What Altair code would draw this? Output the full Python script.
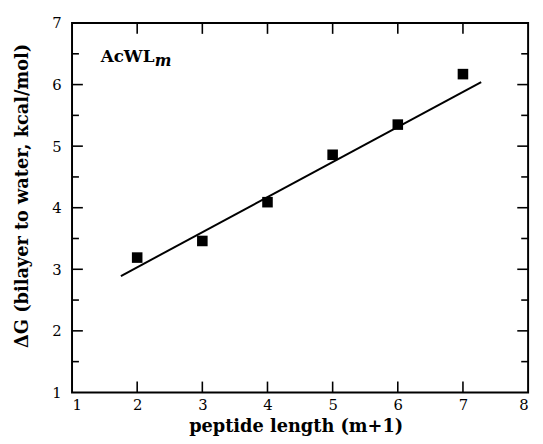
import altair as alt
import pandas as pd

# data
peptide_len = [2, 3, 4, 5, 6, 7]
delta_g = [3.19, 3.46, 4.09, 4.86, 5.35, 6.17]
fit_x = [1.75, 7.28]
fit_y = [2.89, 6.04]
x_tick_labels = [1, 2, 3, 4, 5, 6, 7, 8]
y_tick_labels = [1, 2, 3, 4, 5, 6, 7]
x_major = [2, 3, 4, 5, 6, 7]
y_major = [2, 3, 4, 5, 6]
y_minor = [1.5, 2.5, 3.5, 4.5, 5.5, 6.5]
label_x = [1.44]
label_y = [6.36]

W, H = 463, 375
FONT = "DejaVu Serif"

pts = pd.DataFrame({"x": peptide_len, "y": delta_g})
fit = pd.DataFrame({"x": fit_x, "y": fit_y})
xm = pd.DataFrame({"x": x_major})
ym = pd.DataFrame({"y": y_major})
yn = pd.DataFrame({"y": y_minor})
lab = pd.DataFrame({"x": label_x, "y": label_y})

xs = alt.Scale(domain=[1, 8], nice=False, zero=False)
ys = alt.Scale(domain=[1, 7], nice=False, zero=False)

xenc = alt.X("x:Q", scale=xs, axis=alt.Axis(
    values=x_tick_labels, format="d", ticks=False, domain=False, grid=False,
    labelFont=FONT, labelFontSize=15, labelColor="black", labelPadding=5,
    title="peptide length (m+1)", titleFont=FONT, titleFontSize=18,
    titleFontWeight="bold", titleColor="black", titleY=40, titleX=227,
    titleBaseline="alphabetic"))
yenc = alt.Y("y:Q", scale=ys, axis=alt.Axis(
    values=y_tick_labels, format="d", ticks=False, domain=False, grid=False,
    labelFont=FONT, labelFontSize=15, labelColor="black", labelPadding=11,
    title="ΔG (bilayer to water, kcal/mol)", titleFont=FONT, titleFontSize=18,
    titleFontWeight="bold", titleColor="black", titleX=-45, titleY=175,
    titleBaseline="alphabetic"))

points = alt.Chart(pts).mark_square(size=115, color="black", opacity=1).encode(x=xenc, y=yenc)
line = alt.Chart(fit).mark_line(color="black", strokeWidth=2).encode(
    x=alt.X("x:Q", scale=xs), y=alt.Y("y:Q", scale=ys))

MAJ, MIN = 11, 7
tb = alt.Chart(xm).mark_rule(color="black", strokeWidth=1.6).encode(
    x=alt.X("x:Q", scale=xs), y=alt.value(H), y2=alt.value(H - MAJ))
tt = alt.Chart(xm).mark_rule(color="black", strokeWidth=1.6).encode(
    x=alt.X("x:Q", scale=xs), y=alt.value(0), y2=alt.value(MAJ))
tl = alt.Chart(ym).mark_rule(color="black", strokeWidth=1.6).encode(
    y=alt.Y("y:Q", scale=ys), x=alt.value(0), x2=alt.value(MAJ))
tr = alt.Chart(ym).mark_rule(color="black", strokeWidth=1.6).encode(
    y=alt.Y("y:Q", scale=ys), x=alt.value(W), x2=alt.value(W - MAJ))
tln = alt.Chart(yn).mark_rule(color="black", strokeWidth=1.6).encode(
    y=alt.Y("y:Q", scale=ys), x=alt.value(0), x2=alt.value(MIN))
trn = alt.Chart(yn).mark_rule(color="black", strokeWidth=1.6).encode(
    y=alt.Y("y:Q", scale=ys), x=alt.value(W), x2=alt.value(W - MIN))

t1 = alt.Chart(lab).mark_text(text="AcWL", font=FONT, fontSize=17, fontWeight="bold",
                              align="left", baseline="alphabetic", color="black").encode(
    x=alt.X("x:Q", scale=xs), y=alt.Y("y:Q", scale=ys))
t2 = alt.Chart(lab).mark_text(text="m", font=FONT, fontSize=16, fontWeight="bold",
                              fontStyle="italic", align="left", baseline="alphabetic",
                              dx=55, dy=4, color="black").encode(
    x=alt.X("x:Q", scale=xs), y=alt.Y("y:Q", scale=ys))

chart = alt.layer(line, points, tb, tt, tl, tr, tln, trn, t1, t2).properties(
    width=W, height=H,
    autosize=alt.AutoSizeParams(type="none"),
    padding={"left": 65, "top": 12, "right": 7, "bottom": 41},
    background="white",
).configure_view(stroke="black", strokeWidth=2)

chart.save("out.html", embed_options={"renderer": "svg", "actions": False})
